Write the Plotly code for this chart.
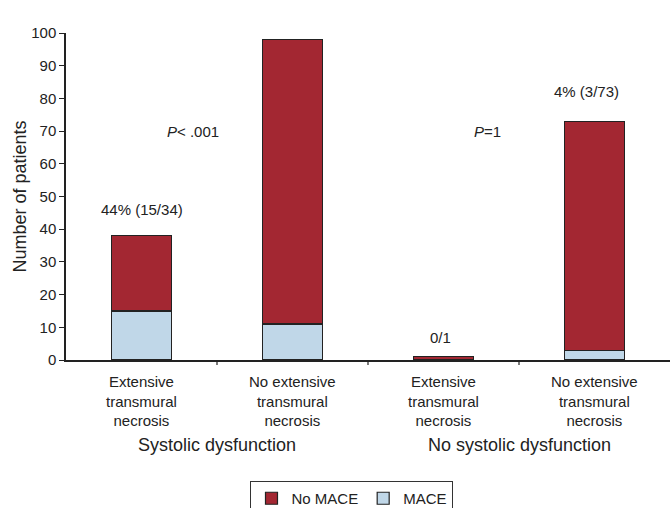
import plotly.graph_objects as go

categories = ["Extensive<br>transmural<br>necrosis", "No extensive<br>transmural<br>necrosis",
              "Extensive<br>transmural<br>necrosis", "No extensive<br>transmural<br>necrosis"]
mace = [15, 11, 0, 3]
no_mace = [23, 87, 1, 70]
bar_labels = ["44% (15/34)", "11% (11/98)", "0/1", "4% (3/73)"]
label_pos_x = [0.0, 1.0, 1.98, 2.95]
label_pos_y = [46, 104, 7, 82]
groups = ["Systolic dysfunction", "No systolic dysfunction"]
group_x = [0.5, 2.5]
p_texts = ["<i>P</i>< .001", "<i>P</i>=1"]
p_x = [0.34, 2.29]
p_y = [70, 70]

FONT = "Liberation Sans, Arial, sans-serif"
xs = list(range(len(categories)))

fig = go.Figure()
fig.add_trace(go.Bar(x=xs, y=mace, name="MACE", marker=dict(color="#C0D7E8", line=dict(color="#222", width=1.2)),
                     width=0.4))
fig.add_trace(go.Bar(x=xs, y=no_mace, name="No MACE", marker=dict(color="#A32732", line=dict(color="#222", width=1.2)),
                     width=0.4))

ann = []
for t, x, y in zip(bar_labels, label_pos_x, label_pos_y):
    ann.append(dict(x=x, y=y, text=t, showarrow=False, xref="x", yref="y", font=dict(size=15, color="#222")))
for t, x, y in zip(p_texts, p_x, p_y):
    ann.append(dict(x=x, y=y, text=t, showarrow=False, xref="x", yref="y", font=dict(size=15, color="#222")))
for t, x in zip(categories, xs):
    ann.append(dict(x=x, y=-0.1254, text=t, showarrow=False, xref="x", yref="paper", yanchor="middle",
                    font=dict(size=15, color="#222")))
for t, x in zip(groups, group_x):
    ann.append(dict(x=x, y=-0.26, text=t, showarrow=False, xref="x", yref="paper", yanchor="middle",
                    font=dict(size=18, color="#222")))

fig.update_layout(
    barmode="stack",
    width=670, height=508,
    margin=dict(l=66, r=0, t=33, b=148, autoexpand=False),
    plot_bgcolor="white", paper_bgcolor="white",
    font=dict(family=FONT, size=15, color="#222"),
    annotations=ann,
    legend=dict(orientation="h", x=0.4735, xanchor="center", y=-0.37, yanchor="top",
                traceorder="reversed", bordercolor="#333", borderwidth=1, font=dict(size=15),
                itemwidth=30),
    xaxis=dict(tickmode="array", tickvals=xs, ticktext=["", "", "", ""], range=[-0.5, 3.5],
               showline=True, linecolor="#222", linewidth=1.5, showgrid=False, zeroline=False,
               ticks="", automargin=False),
    yaxis=dict(range=[0, 100], dtick=10, showline=True, linecolor="#222", linewidth=1.5,
               ticks="outside", ticklen=5, tickcolor="#222", showgrid=False, zeroline=False,
               title=dict(text="Number of patients", font=dict(size=18), standoff=0),
               tickfont=dict(size=15), automargin=False),
)
# boundary ticks on x axis
for b in [0.5, 1.5, 2.5]:
    fig.add_shape(type="line", xref="x", yref="paper", x0=b, x1=b, y0=0, y1=-0.015,
                  line=dict(color="#222", width=1.2))
fig.write_html("out.html", config={"displayModeBar": False},
               post_script="document.body.style.margin='0';document.body.style.overflow='hidden';")
